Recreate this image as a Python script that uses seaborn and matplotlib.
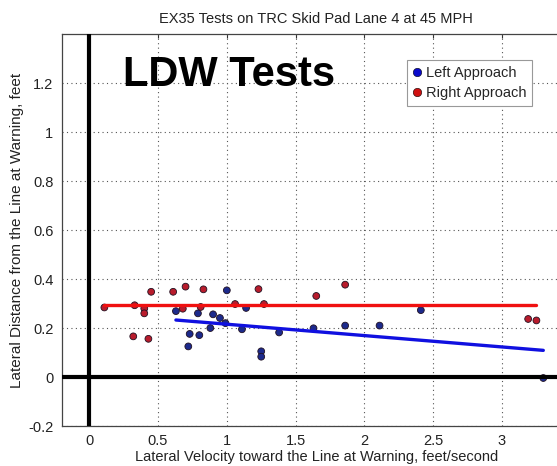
import numpy as np
import pandas as pd
import matplotlib
matplotlib.use("Agg")
import matplotlib.pyplot as plt
from matplotlib.lines import Line2D
import seaborn as sns

# values
left_x = [0.63, 0.72, 0.73, 0.79, 0.80, 0.88, 0.90, 0.95, 0.99, 1.00, 1.11, 1.14,
          1.25, 1.25, 1.38, 1.63, 1.86, 2.11, 2.41, 3.30]
left_y = [0.269, 0.125, 0.176, 0.260, 0.171, 0.200, 0.256, 0.241, 0.220, 0.354, 0.195, 0.282,
          0.105, 0.083, 0.182, 0.199, 0.210, 0.210, 0.273, -0.004]
right_x = [0.11, 0.32, 0.33, 0.40, 0.40, 0.43, 0.45, 0.61, 0.68, 0.70, 0.81, 0.83,
           1.06, 1.23, 1.27, 1.65, 1.86, 3.19, 3.25]
right_y = [0.284, 0.166, 0.293, 0.280, 0.260, 0.156, 0.348, 0.348, 0.279, 0.369, 0.286, 0.358,
           0.298, 0.359, 0.298, 0.331, 0.377, 0.237, 0.231]

# linear fits shown in the picture: slope, intercept
left_fit = [-0.0464, 0.262]
right_fit = [0.0, 0.293]

x_ticks = [0, 0.5, 1, 1.5, 2, 2.5, 3]
y_ticks = [-0.2, 0, 0.2, 0.4, 0.6, 0.8, 1, 1.2]

df = pd.DataFrame({
    'x': left_x + right_x,
    'y': left_y + right_y,
    'side': ['Left Approach'] * len(left_x) + ['Right Approach'] * len(right_x),
})

sns.set_style("white")
plt.rcParams['font.family'] = ['Liberation Sans', 'DejaVu Sans']
fs = 10.5

fig = plt.figure(figsize=(5.57, 4.66), dpi=100)
ax = fig.add_axes([0.1108, 0.0858, 0.914, 0.841])

# grid
for xt in x_ticks:
    ax.axvline(xt, color='#555555', lw=0.8, ls=(0, (1, 3)), zorder=1)
for yt in y_ticks:
    ax.axhline(yt, color='#555555', lw=0.8, ls=(0, (1, 3)), zorder=1)

sns.scatterplot(data=df, x='x', y='y', hue='side',
                palette={'Left Approach': '#1c2a8c', 'Right Approach': '#b81c2c'},
                edgecolor='#201020', linewidth=0.6, s=24, legend=False, ax=ax, zorder=3)

# fitted lines across the range of each series
for xs, fit, col in [(left_x, left_fit, '#1010e0'), (right_x, right_fit, '#f01010')]:
    xr = np.array([min(xs), max(xs)])
    ax.plot(xr, fit[0] * xr + fit[1], color=col, lw=2.4, zorder=4)

ax.axhline(0, color='black', lw=3, zorder=5)
ax.axvline(0, color='black', lw=3, zorder=5)

ax.set_xlim(-0.2, 3.5)
ax.set_ylim(-0.2, 1.4)
ax.set_xticks(x_ticks)
ax.set_xticklabels(['0', '0.5', '1', '1.5', '2', '2.5', '3'])
ax.set_yticks(y_ticks)
ax.set_yticklabels(['-0.2', '0', '0.2', '0.4', '0.6', '0.8', '1', '1.2'])
ax.tick_params(direction='in', length=3, width=0.8, top=True, right=False,
               labelsize=fs, labelcolor='#222222', color='#333333', pad=6)
for side in ['left', 'bottom', 'top']:
    ax.spines[side].set_color('#444444')
    ax.spines[side].set_linewidth(0.9)
ax.spines['right'].set_visible(False)

ax.set_title('EX35 Tests on TRC Skid Pad Lane 4 at 45 MPH', fontsize=fs, color='#222222', pad=8)
ax.set_xlabel('Lateral Velocity toward the Line at Warning, feet/second', fontsize=fs,
              color='#222222', labelpad=1)
ax.set_ylabel('Lateral Distance from the Line at Warning, feet', fontsize=11,
              color='#222222', labelpad=3)

ax.text(0.245, 1.189, 'LDW Tests', fontsize=30, fontweight='bold', color='black',
        va='baseline', ha='left', zorder=6)

handles = [
    Line2D([], [], ls='', marker='o', markersize=6, markerfacecolor='#0a0acc',
           markeredgecolor='#101030', markeredgewidth=0.5, label='Left Approach'),
    Line2D([], [], ls='', marker='o', markersize=6, markerfacecolor='#d01010',
           markeredgecolor='#301010', markeredgewidth=0.5, label='Right Approach'),
]
leg = ax.legend(handles=handles, loc='upper left', bbox_to_anchor=(0.678, 0.934),
                borderaxespad=0, fontsize=fs, handlelength=0.6, handletextpad=0.3,
                borderpad=0.4, labelspacing=0.45, fancybox=False, framealpha=1)
leg.get_frame().set_edgecolor('#999999')
leg.get_frame().set_linewidth(0.8)
leg.set_zorder(7)

fig.savefig('out.png', dpi=100)
